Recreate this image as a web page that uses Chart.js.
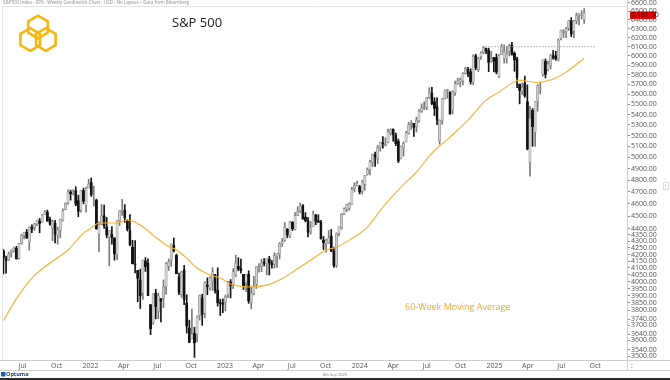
<!DOCTYPE html>
<html>
<head>
<meta charset="utf-8">
<title>S&amp;P 500 weekly</title>
<script src="https://cdn.jsdelivr.net/npm/chart.js@4.4.1/dist/chart.umd.min.js"></script>
<style>
  html, body { margin: 0; padding: 0; background: #fff; }
  #wrap { width: 670px; height: 380px; position: relative; }
</style>
</head>
<body>
<div id="wrap"><canvas id="spxChart" width="670" height="380"></canvas></div>
<script>
// Weekly candles, first one is the week of 10 May 2021 (index 0)
const firstWeek = '2021-05-10';

const weekOpen = [
  4228, 4169, 4159, 4216, 4229, 4248, 4173, 4285, 4347, 4372,
  4296, 4410, 4407, 4438, 4462, 4450, 4514, 4535, 4474, 4402,
  4443, 4349, 4385, 4464, 4554, 4610, 4701, 4689, 4712, 4628,
  4548, 4711, 4588, 4733, 4779, 4656, 4632, 4357, 4432, 4505,
  4412, 4333, 4354, 4327, 4202, 4462, 4541, 4547, 4463, 4385,
  4255, 4130, 4082, 4013, 3920, 4152, 4134, 3839, 3715, 3920,
  3792, 3880, 3883, 3966, 4113, 4155, 4270, 4195, 4035, 3910,
  4084, 3849, 3682, 3610, 3646, 3638, 3764, 3882, 3780, 3977,
  3956, 4005, 4052, 3939, 3853, 3843, 3853, 3911, 3999, 3979,
  4049, 4111, 4097, 4053, 3993, 4055, 3855, 3917, 3982, 4102,
  4110, 4140, 4134, 4166, 4136, 4126, 4190, 4205, 4282, 4308,
  4396, 4344, 4450, 4394, 4506, 4543, 4585, 4492, 4464, 4381,
  4414, 4510, 4463, 4453, 4311, 4284, 4289, 4342, 4225, 4120,
  4364, 4407, 4515, 4555, 4564, 4594, 4725, 4758, 4745, 4704,
  4766, 4853, 4892, 4957, 5026, 4989, 5093, 5131, 5111, 5136,
  5220, 5258, 5202, 5150, 4988, 5084, 5142, 5221, 5305, 5316,
  5284, 5341, 5431, 5459, 5471, 5572, 5614, 5528, 5476, 5151,
  5344, 5557, 5637, 5624, 5442, 5616, 5711, 5727, 5737, 5818,
  5858, 5833, 5723, 6003, 5857, 5992, 6040, 6083, 6063, 5940,
  5984, 5983, 5787, 6014, 5970, 5969, 6047, 6121, 6027, 5969,
  5705, 5635, 5718, 5527, 4953, 5441, 5233, 5529, 5655, 5807,
  5944, 5854, 5897, 6005, 6004, 5969, 6193, 6260, 6268, 6304,
  6394, 6272, 6390, 6454, 6457, 6404
];
const weekHigh = [
  4238, 4188, 4219, 4234, 4256, 4262, 4286, 4356, 4372, 4394,
  4415, 4429, 4441, 4468, 4481, 4513, 4545, 4549, 4492, 4466,
  4466, 4412, 4475, 4560, 4608, 4718, 4715, 4718, 4744, 4672,
  4713, 4732, 4741, 4808, 4819, 4749, 4640, 4453, 4595, 4590,
  4489, 4385, 4416, 4329, 4465, 4546, 4637, 4594, 4471, 4512,
  4308, 4307, 4082, 4091, 4158, 4177, 4168, 3839, 3914, 3946,
  3918, 3880, 4013, 4140, 4167, 4280, 4326, 4204, 4062, 4076,
  4119, 3907, 3733, 3807, 3686, 3762, 3906, 3911, 4000, 4028,
  4034, 4101, 4053, 4101, 3876, 3878, 3906, 4003, 4015, 4094,
  4195, 4176, 4165, 4053, 4049, 4079, 3964, 4039, 4110, 4133,
  4164, 4170, 4170, 4187, 4155, 4213, 4209, 4291, 4322, 4448,
  4400, 4458, 4456, 4528, 4578, 4607, 4595, 4528, 4490, 4458,
  4541, 4515, 4511, 4466, 4338, 4318, 4385, 4394, 4256, 4366,
  4415, 4521, 4568, 4598, 4609, 4739, 4779, 4793, 4755, 4798,
  4842, 4907, 4975, 5030, 5048, 5111, 5140, 5190, 5180, 5262,
  5264, 5264, 5224, 5168, 5103, 5142, 5240, 5325, 5342, 5316,
  5376, 5448, 5506, 5524, 5571, 5667, 5670, 5566, 5566, 5350,
  5560, 5643, 5651, 5626, 5636, 5734, 5767, 5767, 5822, 5878,
  5878, 5863, 6012, 6018, 5985, 6045, 6100, 6085, 6085, 6049,
  5985, 6021, 6014, 6128, 6120, 6101, 6128, 6147, 6044, 5987,
  5705, 5716, 5787, 5695, 5481, 5459, 5528, 5700, 5720, 5959,
  5968, 5944, 6016, 6059, 6050, 6187, 6284, 6290, 6316, 6395,
  6428, 6396, 6481, 6474, 6508, 6532
];
const weekLow = [
  4056, 4062, 4155, 4180, 4218, 4165, 4164, 4279, 4320, 4321,
  4233, 4367, 4385, 4424, 4367, 4450, 4513, 4457, 4427, 4306,
  4288, 4279, 4329, 4460, 4551, 4595, 4631, 4673, 4585, 4495,
  4532, 4600, 4531, 4733, 4662, 4582, 4395, 4222, 4431, 4401,
  4327, 4115, 4279, 4157, 4161, 4425, 4506, 4450, 4381, 4268,
  4129, 4063, 3859, 3811, 3875, 4074, 3900, 3637, 3705, 3741,
  3742, 3721, 3818, 3911, 4080, 4112, 4219, 4057, 3907, 3888,
  3838, 3647, 3584, 3610, 3491, 3590, 3733, 3698, 3748, 3907,
  3940, 3938, 3918, 3828, 3764, 3783, 3795, 3887, 3885, 3949,
  4037, 4079, 4061, 3944, 3928, 3847, 3809, 3906, 3951, 4069,
  4072, 4114, 4049, 4048, 4099, 4099, 4104, 4166, 4261, 4300,
  4328, 4329, 4385, 4389, 4504, 4528, 4474, 4453, 4335, 4356,
  4414, 4431, 4449, 4317, 4238, 4217, 4284, 4224, 4104, 4103,
  4343, 4394, 4511, 4537, 4547, 4594, 4699, 4751, 4682, 4682,
  4714, 4844, 4845, 4918, 4920, 4946, 5057, 5084, 5104, 5132,
  5204, 5147, 5107, 4954, 4986, 5012, 5142, 5212, 5257, 5192,
  5234, 5325, 5420, 5447, 5448, 5558, 5497, 5390, 5302, 5120,
  5306, 5551, 5560, 5402, 5406, 5588, 5701, 5674, 5696, 5805,
  5780, 5703, 5697, 5853, 5831, 5963, 6023, 6024, 5833, 5933,
  5829, 5809, 5774, 6014, 5923, 5923, 6000, 6009, 5837, 5667,
  5505, 5598, 5570, 5069, 4835, 5101, 5101, 5434, 5603, 5786,
  5767, 5841, 5862, 5964, 5952, 5944, 6174, 6202, 6201, 6281,
  6212, 6201, 6356, 6343, 6412, 6360
];
const weekClose = [
  4174, 4156, 4204, 4230, 4247, 4166, 4281, 4352, 4370, 4327,
  4412, 4395, 4437, 4468, 4442, 4509, 4535, 4459, 4433, 4455,
  4357, 4391, 4471, 4545, 4605, 4698, 4683, 4698, 4595, 4538,
  4712, 4621, 4726, 4766, 4677, 4663, 4398, 4432, 4501, 4419,
  4349, 4385, 4329, 4204, 4463, 4543, 4546, 4488, 4393, 4272,
  4132, 4123, 4024, 3901, 4158, 4109, 3901, 3675, 3912, 3825,
  3899, 3863, 3962, 4130, 4145, 4280, 4229, 4058, 3924, 4067,
  3873, 3693, 3586, 3640, 3583, 3753, 3901, 3771, 3993, 3965,
  4026, 4072, 3934, 3852, 3845, 3840, 3895, 3999, 3973, 4071,
  4136, 4091, 4079, 3970, 4046, 3862, 3917, 3971, 4109, 4105,
  4138, 4134, 4170, 4136, 4124, 4192, 4205, 4282, 4299, 4410,
  4348, 4450, 4399, 4505, 4536, 4582, 4478, 4464, 4370, 4406,
  4516, 4457, 4450, 4320, 4288, 4309, 4328, 4224, 4117, 4358,
  4415, 4514, 4559, 4595, 4604, 4719, 4755, 4770, 4697, 4784,
  4840, 4891, 4959, 5027, 5006, 5089, 5137, 5124, 5117, 5234,
  5254, 5204, 5123, 4967, 5100, 5128, 5223, 5303, 5305, 5278,
  5347, 5432, 5465, 5460, 5567, 5615, 5505, 5459, 5347, 5344,
  5554, 5635, 5648, 5408, 5626, 5703, 5738, 5751, 5815, 5865,
  5808, 5729, 5996, 5871, 5969, 6032, 6090, 6051, 5931, 5971,
  5942, 5827, 5997, 6101, 6041, 6026, 6115, 6013, 5955, 5770,
  5639, 5668, 5581, 5074, 5363, 5283, 5525, 5687, 5660, 5958,
  5803, 5912, 6000, 5977, 5968, 6173, 6279, 6260, 6297, 6389,
  6238, 6389, 6450, 6467, 6460, 6482
];

// 60-week moving average (week index, value)
const maWeek  = [0, 5, 11, 18, 25, 31, 34, 37, 44, 48, 53, 58, 63, 67, 71, 75, 80, 84, 88, 96, 102, 107, 115, 122, 125, 129, 134, 141, 147, 154, 160, 166, 173, 180, 187, 192, 197, 200, 203, 207, 212, 218, 225];
const maValue = [3730, 3880, 4026, 4136, 4234, 4365, 4404, 4444, 4444, 4468, 4428, 4349, 4272, 4234, 4173, 4099, 4048, 4026, 3983, 3962, 3975, 4012, 4107, 4196, 4234, 4256, 4310, 4412, 4573, 4741, 4870, 5039, 5186, 5347, 5542, 5622, 5714, 5745, 5734, 5720, 5745, 5828, 5975];

// dotted resistance line at the Dec 2024 high
const resistanceLevel = 6100;
const resistanceWeeks = [185.5, 229.5];

const lastPrice = 6481.50;

const yTickValues = [3500, 3540, 3600, 3640, 3700, 3740, 3800, 3850, 3900, 3950, 4000, 4050, 4100, 4150, 4200, 4250, 4300, 4350, 4400,
  4500, 4600, 4700, 4800, 4900, 5000, 5100, 5200, 5300, 5400, 5500, 5600, 5700, 5800, 5900, 6000, 6100, 6200, 6300, 6400, 6500, 6600];

const quarterStarts = ['2021-07-01', '2021-10-01', '2022-01-01', '2022-04-01', '2022-07-01', '2022-10-01',
  '2023-01-01', '2023-04-01', '2023-07-01', '2023-10-01', '2024-01-01', '2024-04-01', '2024-07-01', '2024-10-01',
  '2025-01-01', '2025-04-01', '2025-07-01', '2025-10-01'];
const quarterLabels = ['Jul', 'Oct', '2022', 'Apr', 'Jul', 'Oct', '2023', 'Apr', 'Jul', 'Oct', '2024', 'Apr', 'Jul', 'Oct', '2025', 'Apr', 'Jul', 'Oct'];

function weekIndex(dateStr) {
  return (Date.parse(dateStr) - Date.parse(firstWeek)) / (7 * 86400000);
}

const upBody = '#cfcfcf', upEdge = '#7a7a7a', downColor = '#141414';
const bodyColors = weekClose.map((c, i) => c >= weekOpen[i] ? upBody : downColor);
const edgeColors = weekClose.map((c, i) => c >= weekOpen[i] ? upEdge : downColor);

Chart.defaults.font.family = "'Open Sans', 'Noto Sans', sans-serif";

// Hexagon helper for the logo (pointy top)
function hexagon(ctx, cx, cy, r) {
  ctx.beginPath();
  for (let k = 0; k < 6; k++) {
    const a = Math.PI / 2 + k * Math.PI / 3;
    const px = cx + r * Math.cos(a), py = cy - r * Math.sin(a);
    if (k === 0) ctx.moveTo(px, py); else ctx.lineTo(px, py);
  }
  ctx.closePath();
  ctx.stroke();
}

const decorations = {
  id: 'decorations',
  beforeDraw(chart) {
    const ctx = chart.ctx;
    ctx.save();
    ctx.fillStyle = '#ffffff';
    ctx.fillRect(0, 0, chart.width, chart.height);
    ctx.restore();
  },
  afterDraw(chart) {
    const { ctx, chartArea } = chart;
    const xScale = chart.scales.x;
    const yScale = chart.scales.y;
    ctx.save();

    // header strip
    ctx.fillStyle = '#ffffff';
    ctx.fillRect(0, 0, chartArea.right, 6);
    ctx.fillStyle = '#8a8a8a';
    ctx.font = "4.5px 'Open Sans'";
    ctx.textBaseline = 'middle';
    ctx.textAlign = 'left';
    ctx.fillText('S&P500 Index - SPX - Weekly Candlestick Chart - USD - No Layout -- Data from Bloomberg', 3, 3);

    ctx.strokeStyle = '#e4e4e4';
    ctx.lineWidth = 1;
    ctx.beginPath();
    ctx.moveTo(2.5, 6.5); ctx.lineTo(chartArea.right, 6.5);
    ctx.moveTo(2.5, 6.5); ctx.lineTo(2.5, chartArea.bottom);
    ctx.stroke();

    // axis frame lines
    ctx.strokeStyle = '#cfcfcf';
    ctx.beginPath();
    ctx.moveTo(0, 360.5); ctx.lineTo(670, 360.5);
    ctx.moveTo(0, 370.5); ctx.lineTo(670, 370.5);
    ctx.moveTo(627.5, 0); ctx.lineTo(627.5, 370);
    ctx.stroke();

    // date labels along the time axis, placed with the x scale
    ctx.fillStyle = '#555';
    ctx.font = "7px 'Open Sans'";
    ctx.textAlign = 'center';
    quarterStarts.forEach((d, i) => {
      ctx.fillText(quarterLabels[i], xScale.getPixelForValue(weekIndex(d)), 365.5);
    });
    ctx.textAlign = 'left';
    ctx.fillText(':', 631, 365.5);

    // title
    ctx.fillStyle = '#222';
    ctx.font = "13px 'Open Sans'";
    ctx.textBaseline = 'alphabetic';
    ctx.fillText('S&P 500', 172, 27);

    // logo
    ctx.strokeStyle = '#F6B60B';
    ctx.lineWidth = 2.6;
    ctx.lineJoin = 'round';
    hexagon(ctx, 38, 27, 11.3);
    hexagon(ctx, 30.2, 39.5, 11.3);
    hexagon(ctx, 45.8, 39.5, 11.3);

    // moving average caption
    ctx.fillStyle = '#F4A92A';
    ctx.font = "9px 'Open Sans'";
    ctx.textBaseline = 'middle';
    ctx.fillText('60-Week Moving Average', 405, 307.5);

    // last price tag
    const py = yScale.getPixelForValue(lastPrice) + 2;
    ctx.fillStyle = '#e60000';
    ctx.fillRect(630, py - 3.5, 26, 7.5);
    ctx.fillStyle = '#2a0000';
    ctx.font = "7px 'Open Sans'";
    ctx.fillText(lastPrice.toLocaleString('en-US', { minimumFractionDigits: 2 }), 631, py + 0.5);

    // collapse arrow at the right edge
    ctx.strokeStyle = '#d0d0d0';
    ctx.lineWidth = 0.8;
    ctx.strokeRect(663.5, 182.5, 5, 7);
    ctx.fillStyle = '#777';
    ctx.font = "5px 'Open Sans'";
    ctx.fillText('\u2039', 664.8, 186);

    // footer
    ctx.fillStyle = '#1f5fa8';
    ctx.fillRect(1, 372, 4.5, 4.5);
    ctx.fillStyle = '#1d3f73';
    ctx.font = "bold 5.5px 'Open Sans'";
    ctx.fillText('Optuma', 6, 374.5);
    ctx.fillStyle = '#777';
    ctx.font = "4px 'Open Sans'";
    ctx.textAlign = 'center';
    ctx.fillText('8th Sep 2025', 335, 374.5);
    ctx.fillStyle = '#2b2b2b';
    ctx.fillRect(0, 378, 670, 2);

    ctx.restore();
  }
};

new Chart(document.getElementById('spxChart'), {
  type: 'bar',
  data: {
    datasets: [
      {
        type: 'line',
        label: '60-Week Moving Average',
        data: maWeek.map((w, i) => ({ x: w, y: maValue[i] })),
        borderColor: '#F7AE30',
        borderWidth: 1.1,
        pointRadius: 0,
        cubicInterpolationMode: 'monotone',
        order: 0
      },
      {
        type: 'line',
        label: 'Resistance',
        data: resistanceWeeks.map(w => ({ x: w, y: resistanceLevel })),
        borderColor: '#9ea3b0',
        borderWidth: 1,
        borderDash: [1.5, 1.5],
        pointRadius: 0,
        order: 1
      },
      {
        label: 'Body',
        data: weekOpen.map((o, i) => ({ x: i, y: [o, weekClose[i]] })),
        backgroundColor: bodyColors,
        borderColor: edgeColors,
        borderWidth: 0.5,
        borderSkipped: false,
        barThickness: 2.3,
        minBarLength: 1,
        grouped: false,
        order: 2
      },
      {
        label: 'Wick',
        data: weekLow.map((l, i) => ({ x: i, y: [l, weekHigh[i]] })),
        backgroundColor: edgeColors,
        barThickness: 1,
        grouped: false,
        order: 3
      }
    ]
  },
  options: {
    responsive: false,
    animation: false,
    layout: { padding: { left: 3, top: 0, right: 0, bottom: 10 } },
    plugins: {
      legend: { display: false },
      tooltip: { enabled: false }
    },
    scales: {
      x: {
        type: 'linear',
        min: -0.19,
        max: 241.6,
        offset: false,
        grid: { display: false, offset: false },
        border: { display: false },
        afterFit: (scale) => {
          scale.height = 10;
        },
        ticks: { display: false }
      },
      y: {
        type: 'logarithmic',
        position: 'right',
        min: 3475,
        max: 6634,
        grid: { drawOnChartArea: false, drawTicks: true, tickLength: 3, color: '#8c8c8c' },
        border: { display: false },
        afterBuildTicks: (scale) => {
          scale.ticks = yTickValues.map(v => ({ value: v }));
        },
        afterFit: (scale) => {
          scale.width = 43;
          scale.paddingTop = 0;
          scale.paddingBottom = 0;
        },
        ticks: {
          autoSkip: false,
          padding: 1,
          color: '#555',
          font: { size: 7 },
          callback: (value) => Number(value).toFixed(2)
        }
      }
    }
  },
  plugins: [decorations]
});
</script>
</body>
</html>
